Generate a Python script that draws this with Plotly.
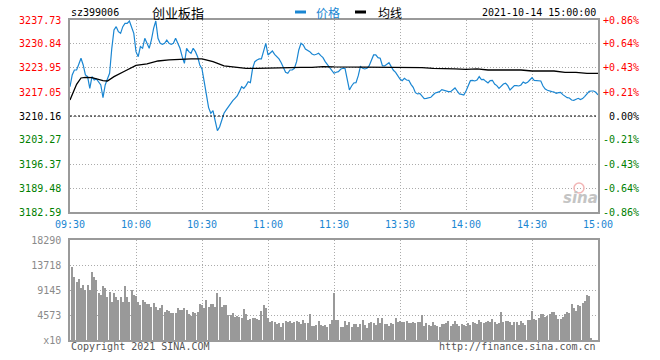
import plotly.graph_objects as go

# ---------------- data ----------------
prev_close = 3210.16
y_ticks = [3182.59, 3189.48, 3196.37, 3203.27, 3210.16, 3217.05, 3223.95, 3230.84, 3237.73]
pct_labels = ["-0.86%", "-0.64%", "-0.43%", "-0.21%", "0.00%", "+0.21%", "+0.43%", "+0.64%", "+0.86%"]
time_ticks = [0, 30, 60, 90, 120, 150, 180, 210, 240]
time_labels = ["09:30", "10:00", "10:30", "11:00", "11:30", "13:30", "14:00", "14:30", "15:00"]

prices = [
    3218.59, 3221.94, 3223.37, 3223.37, 3225.00, 3226.73, 3224.81, 3221.94, 3221.46, 3218.11,
    3221.46, 3220.50, 3220.79, 3220.02, 3219.07, 3215.43, 3219.07, 3220.79, 3222.42, 3229.60,
    3234.86, 3235.82, 3234.38, 3233.90, 3235.82, 3236.78, 3236.78, 3237.45, 3235.82, 3233.90,
    3228.64, 3227.20, 3230.08, 3229.60, 3232.47, 3231.03, 3229.60, 3231.99, 3235.34, 3237.45,
    3232.47, 3231.03, 3230.75, 3231.03, 3231.99, 3231.03, 3230.75, 3231.03, 3232.47, 3231.03,
    3229.60, 3227.20, 3225.29, 3229.60, 3228.64, 3228.16, 3229.60, 3228.64, 3227.20, 3224.81,
    3223.67, 3220.02, 3216.39, 3212.57, 3210.94, 3211.70, 3208.74, 3205.95, 3207.00, 3209.31,
    3210.94, 3211.90, 3212.85, 3213.81, 3214.58, 3215.24, 3215.91, 3217.16, 3218.59, 3218.11,
    3218.88, 3220.02, 3219.74, 3223.86, 3225.77, 3226.25, 3226.54, 3226.54, 3228.64, 3231.03,
    3227.69, 3228.16, 3228.83, 3227.88, 3227.20, 3226.54, 3225.48, 3223.86, 3222.71, 3222.42,
    3223.37, 3223.37, 3223.86, 3225.77, 3229.12, 3231.03, 3230.56, 3229.41, 3229.12, 3228.64,
    3227.97, 3227.69, 3227.88, 3228.16, 3227.49, 3226.92, 3225.77, 3225.00, 3224.05, 3223.37,
    3222.42, 3222.71, 3222.90, 3223.57, 3223.86, 3223.86, 3220.50, 3217.63, 3218.78, 3219.64,
    3219.74, 3221.66, 3224.34, 3223.86, 3223.67, 3223.86, 3224.62, 3226.25, 3227.69, 3227.69,
    3226.92, 3226.73, 3224.62, 3224.53, 3225.00, 3225.48, 3224.34, 3223.28, 3222.71, 3221.56,
    3220.79, 3220.31, 3220.98, 3220.50, 3220.41, 3219.26, 3218.40, 3216.87, 3216.49, 3216.67,
    3215.72, 3215.15, 3215.24, 3215.33, 3215.53, 3216.20, 3216.77, 3216.96, 3217.16, 3217.73,
    3217.54, 3217.16, 3217.16, 3217.16, 3217.73, 3218.21, 3217.34, 3216.49, 3216.39, 3216.20,
    3217.34, 3219.07, 3220.31, 3220.41, 3220.22, 3220.50, 3221.46, 3220.60, 3220.69, 3220.12,
    3219.64, 3220.31, 3220.41, 3219.35, 3218.88, 3218.11, 3218.78, 3219.35, 3219.55, 3218.88,
    3217.63, 3218.30, 3218.88, 3218.88, 3218.78, 3219.07, 3219.93, 3219.55, 3219.83, 3220.50,
    3221.17, 3220.41, 3220.31, 3220.31, 3220.22, 3218.78, 3217.92, 3217.54, 3217.25, 3217.16,
    3217.06, 3216.67, 3216.87, 3216.96, 3216.29, 3215.72, 3215.43, 3215.33, 3214.76, 3214.66,
    3214.95, 3215.24, 3214.86, 3215.15, 3215.81, 3216.67, 3217.25, 3217.34, 3217.34, 3216.96,
    3216.20,
]
price_minutes = list(range(len(prices)))

avg_minutes = [0, 1, 2, 3, 5, 7, 10, 15, 17, 20, 25, 30, 35, 40, 45, 50, 55, 60, 65, 70, 75, 80,
               85, 90, 95, 100, 105, 110, 115, 120, 125, 130, 135, 140, 145, 150, 155, 160, 165,
               170, 175, 180, 185, 190, 195, 200, 205, 210, 215, 220, 225, 230, 235, 240]
avg_prices = [3214.77, 3216.20, 3217.92, 3219.26, 3221.08, 3221.27, 3221.18, 3220.32, 3220.22,
              3221.46, 3223.09, 3224.72, 3225.10, 3225.96, 3226.25, 3226.44, 3226.54, 3226.54,
              3225.77, 3224.53, 3224.15, 3223.86, 3223.86, 3223.95, 3224.15, 3224.15, 3224.15,
              3224.15, 3224.34, 3224.24, 3224.24, 3224.24, 3224.24, 3224.24, 3224.24, 3224.24,
              3224.24, 3224.05, 3223.86, 3223.67, 3223.67, 3223.57, 3223.67, 3223.37, 3223.37,
              3223.37, 3223.37, 3223.09, 3223.09, 3223.09, 3222.71, 3222.71, 3222.42, 3222.42]

volumes = [
    13410, 11580, 10660, 11160, 9460, 10060, 9145, 10060, 9145, 12490,
    11580, 10970, 8540, 8230, 9880, 9460, 7920, 8830, 7010, 8540,
    7920, 7320, 7920, 7010, 9880, 7920, 6900, 9145, 8230, 8100,
    7010, 6400, 7320, 7010, 6580, 6580, 6090, 6710, 6090, 5490,
    5800, 6400, 5180, 5490, 5300, 4880, 4880, 4880, 5800, 5490,
    5490, 5800, 5490, 4760, 4440, 5180, 4880, 5180, 6580, 6400,
    5800, 7320, 6090, 6530, 6580, 6090, 8540, 7920, 6090, 6400,
    6400, 4573, 4573, 4880, 4260, 4440, 4260, 3970, 5620, 4700,
    3660, 3790, 4080, 3970, 3790, 3660, 5300, 6400, 5850, 4020,
    3290, 3480, 3240, 2930, 3110, 2320, 3110, 3420, 3290, 3420,
    3110, 3240, 3530, 3240, 2980, 3710, 3110, 3110, 4760, 2510,
    2510, 2690, 3420, 2690, 2510, 2800, 2380, 2930, 3660, 8600,
    3660, 3660, 2430, 2430, 3480, 2740, 3240, 2430, 2930, 2930,
    2430, 2870, 3660, 2740, 2250, 3050, 3240, 3160, 2740, 4080,
    3050, 3970, 2930, 2930, 2560, 3160, 2930, 4080, 3350, 3530,
    3350, 3350, 3480, 3160, 3160, 3350, 3160, 3350, 3240, 4573,
    2620, 3050, 2740, 2620, 3350, 2740, 2620, 2320, 2930, 2930,
    3160, 3480, 2620, 2980, 3480, 2870, 2620, 2870, 2740, 2620,
    3160, 2740, 3240, 3050, 2930, 3660, 3350, 3160, 3240, 3480,
    3240, 3790, 3350, 2930, 3050, 5070, 3350, 3480, 3480, 3350,
    2740, 3240, 3350, 2740, 3480, 3160, 2740, 3660, 3660, 5360,
    3790, 3660, 4080, 4700, 4700, 4150, 4390, 4700, 5070, 5070,
    4573, 3790, 3840, 4260, 4700, 5070, 4880, 6580, 5800, 5300,
    6400, 6220, 6710, 7130, 8230, 8050, 310,
]
vol_minutes = list(range(1, len(volumes) + 1))
vol_ticks = [0, 4573, 9145, 13718, 18290]
vol_labels = ["x10", "4573", "9145", "13718", "18290"]

# ---------------- styling ----------------
W, H = 660, 360
L, R, T, B = 70, 62, 20, 20
PW, PH = W - L - R, H - T - B
BLUE = "#1a86d2"
GRID = "#ababab"
FRAME = "#9a9a9a"
MONO = "DejaVu Sans Mono, Liberation Mono, monospace"
CJK = "Noto Sans CJK SC, Noto Sans, sans-serif"


def px(x):
    return (x - L) / PW


def py(y):
    return (H - B - y) / PH


def col_for(v):
    if abs(v - prev_close) < 1e-6:
        return "#000000"
    return "#ff0000" if v > prev_close else "#008000"


left_text = [f"<span style='color:{col_for(v)}'>{v:.2f}</span>" for v in y_ticks]
right_text = [f"<span style='color:{col_for(v)}'>{lab.rjust(6, chr(160))}</span>"
              for v, lab in zip(y_ticks, pct_labels)]

price_dom = [py(212), 1.0]
vol_dom = [0.0, py(240)]

fig = go.Figure()
fig.add_trace(go.Scatter(x=price_minutes, y=prices, mode="lines",
                         line=dict(color=BLUE, width=1.2), xaxis="x", yaxis="y",
                         hoverinfo="skip", showlegend=False))
fig.add_trace(go.Scatter(x=avg_minutes, y=avg_prices, mode="lines",
                         line=dict(color="#000000", width=1.3), xaxis="x", yaxis="y",
                         hoverinfo="skip", showlegend=False))
fig.add_trace(go.Scatter(x=[0, 240], y=[y_ticks[0], y_ticks[-1]], mode="lines",
                         line=dict(width=0), opacity=0, xaxis="x", yaxis="y3",
                         hoverinfo="skip", showlegend=False))
fig.add_trace(go.Bar(x=vol_minutes, y=volumes, width=0.42,
                     marker=dict(color="#999999", line=dict(width=0)),
                     xaxis="x2", yaxis="y2", hoverinfo="skip", showlegend=False))

grid_common = dict(showgrid=True, gridcolor=GRID, griddash="1px,2px", gridwidth=1,
                   zeroline=False, showline=True, linecolor=FRAME, linewidth=1.5,
                   mirror=True, ticks="")

fig.update_layout(
    width=W, height=H, margin=dict(l=L, r=R, t=T, b=B),
    paper_bgcolor="white", plot_bgcolor="white", hovermode=False,
    bargap=0,
    xaxis=dict(domain=[0, 1], anchor="y", range=[0, 240], tickvals=time_ticks,
               ticktext=time_labels, tickfont=dict(family=MONO, size=10, color=BLUE),
               ticklabelstandoff=2, **grid_common),
    yaxis=dict(domain=price_dom, anchor="x", range=[y_ticks[0], y_ticks[-1]],
               tickvals=y_ticks, ticktext=left_text,
               tickfont=dict(family=MONO, size=10), ticklabelstandoff=5, **grid_common),
    yaxis3=dict(overlaying="y", side="right", anchor="x", range=[y_ticks[0], y_ticks[-1]],
                tickvals=y_ticks, ticktext=right_text, showgrid=False, zeroline=False,
                showline=False, ticks="", tickfont=dict(family=MONO, size=10),
                ticklabelstandoff=4),
    xaxis2=dict(domain=[0, 1], anchor="y2", range=[0, 240], tickvals=time_ticks,
                showticklabels=False, **grid_common),
    yaxis2=dict(domain=vol_dom, anchor="x2", range=[0, vol_ticks[-1]], tickvals=vol_ticks,
                ticktext=vol_labels, tickfont=dict(family=MONO, size=10, color="#8a8a8a"),
                ticklabelstandoff=5, **grid_common),
)

# previous close reference line
fig.add_shape(type="line", xref="x", yref="y", x0=0, x1=240, y0=prev_close, y1=prev_close,
              line=dict(color="#000000", width=1, dash="2px,2px"))

# legend marks
fig.add_shape(type="line", xref="paper", yref="paper", x0=px(295), x1=px(306), y0=py(12), y1=py(12),
              line=dict(color=BLUE, width=3))
fig.add_shape(type="line", xref="paper", yref="paper", x0=px(355), x1=px(366), y0=py(12), y1=py(12),
              line=dict(color="#000000", width=3))

# sina watermark
fig.add_shape(type="circle", xref="paper", yref="paper", x0=px(574), x1=px(584), y0=py(193), y1=py(183),
              line=dict(color="#f2b6b6", width=1.5))

ann = []


def add_text(text, x, y, xanchor, font):
    ann.append(dict(text=text, x=px(x), y=py(y), xref="paper", yref="paper",
                    xanchor=xanchor, yanchor="middle", showarrow=False, font=font))


add_text("sz399006", 69, 13, "left", dict(family=MONO, size=10, color="#000000"))
add_text("创业板指", 150, 13, "left", dict(family=CJK, size=13, color="#000000"))
add_text("价格", 314, 13, "left", dict(family=CJK, size=12, color=BLUE))
add_text("均线", 376, 13, "left", dict(family=CJK, size=12, color="#000000"))
add_text("2021-10-14 15:00:00", 598, 13, "right", dict(family=MONO, size=10, color="#000000"))
add_text("Copyright 2021 SINA.COM", 69, 346, "left", dict(family=MONO, size=10, color="#555555"))
add_text("http://finance.sina.com.cn", 598, 346, "right", dict(family=MONO, size=10, color="#555555"))
add_text("<b><i>sina</i></b>", 580, 198, "center", dict(family="DejaVu Sans, sans-serif", size=15, color="#c4c4c4"))

fig.update_layout(annotations=ann)

fig.write_html("out.html", config={"displayModeBar": False},
               post_script="document.body.style.margin='0';document.body.style.padding='0';")
